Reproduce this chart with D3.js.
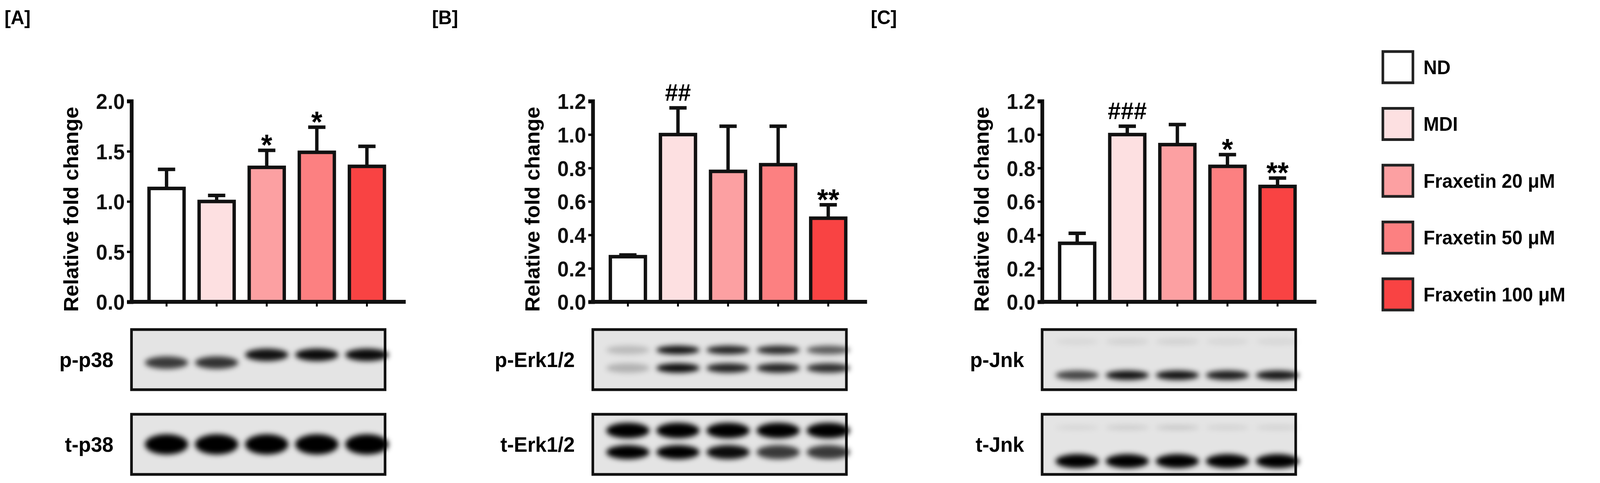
<!DOCTYPE html>
<html>
<head>
<meta charset="utf-8">
<script src="https://cdn.jsdelivr.net/npm/d3@7"></script>
<style>
  html, body { margin: 0; background: #fff; overflow: hidden; }
  svg { display: block; width: 100vw; height: 100vh; }
  text { font-family: "Liberation Sans", Arial, sans-serif; font-weight: bold; }
</style>
</head>
<body>
<script>
// groups and colours
var groups = ["ND", "MDI", "Fraxetin 20 μM", "Fraxetin 50 μM", "Fraxetin 100 μM"];
var colors = ["#ffffff", "#fde0e1", "#fca0a2", "#fc8081", "#f94343"];

// bar values (mean) and error tops
var p38Mean = [1.13, 1.00, 1.34, 1.49, 1.35];
var p38Err  = [1.32, 1.06, 1.51, 1.74, 1.55];
var p38Sig  = ["", "", "*", "*", ""];

var erkMean = [0.27, 1.00, 0.78, 0.82, 0.50];
var erkErr  = [0.28, 1.16, 1.05, 1.05, 0.58];
var erkSig  = ["", "##", "", "", "**"];

var jnkMean = [0.35, 1.00, 0.94, 0.81, 0.69];
var jnkErr  = [0.41, 1.05, 1.06, 0.88, 0.74];
var jnkSig  = ["", "###", "", "*", "**"];

var p38Ticks = [0, 0.5, 1.0, 1.5, 2.0];
var erkTicks = [0, 0.2, 0.4, 0.6, 0.8, 1.0, 1.2];
var jnkTicks = [0, 0.2, 0.4, 0.6, 0.8, 1.0, 1.2];

// blot band intensities per lane (0..1), one array per band row
var pp38Bands = [[0.75, 0.78, 0.92, 0.95, 0.95]];
var tp38Bands = [[1, 1, 1, 1, 1]];
var pErkBands = [[0.18, 0.92, 0.85, 0.82, 0.6], [0.22, 0.95, 0.85, 0.85, 0.8]];
var tErkBands = [[1, 1, 1, 1, 1], [1, 1, 0.95, 0.75, 0.75]];
var pJnkBands = [[0.05, 0.08, 0.08, 0.06, 0.06], [0.7, 0.92, 0.92, 0.88, 0.9]];
var tJnkBands = [[0.06, 0.1, 0.12, 0.08, 0.08], [1, 1, 1, 1, 1]];

var W = 4259, H = 1237;
var svg = d3.select("body").append("svg")
    .attr("viewBox", "0 0 " + W + " " + H)
    .attr("preserveAspectRatio", "none");

var defs = svg.append("defs");
defs.append("filter").attr("id", "blur").attr("x", "-20%").attr("y", "-50%")
    .attr("width", "140%").attr("height", "200%")
  .append("feGaussianBlur").attr("stdDeviation", 7);

var yTop = 259, yBottom = 773;

function panel(opt) {
    var g = svg.append("g");
    var x = d3.scaleBand().domain(groups).range([opt.x0, opt.x0 + 5 * opt.step]).paddingInner(0.3).paddingOuter(0.35);
    var y = d3.scaleLinear().domain([0, opt.max]).range([yBottom, yTop]);

    g.append("text").attr("x", opt.letterX).attr("y", 62).style("font-size", "50px").text(opt.letter);

    // bars
    g.selectAll(".bar").data(opt.mean).enter().append("rect")
        .attr("x", function (d, i) { return x(groups[i]); })
        .attr("y", function (d) { return y(d); })
        .attr("width", x.bandwidth())
        .attr("height", function (d) { return y(0) - y(d); })
        .attr("fill", function (d, i) { return colors[i]; })
        .attr("stroke", "#111").attr("stroke-width", 9);

    // error bars
    g.selectAll(".err").data(opt.err).enter().append("path")
        .attr("d", function (d, i) {
            var cx = x(groups[i]) + x.bandwidth() / 2;
            return "M" + cx + "," + y(opt.mean[i]) + "V" + y(d) + "M" + (cx - 23) + "," + y(d) + "H" + (cx + 23);
        })
        .attr("stroke", "#111").attr("stroke-width", 9).attr("fill", "none");

    g.selectAll(".sig").data(opt.sig).enter().append("text")
        .attr("x", function (d, i) { return x(groups[i]) + x.bandwidth() / 2; })
        .attr("y", function (d, i) { return y(opt.err[i]) - (d.charAt(0) == "#" ? 18 : -12); })
        .attr("text-anchor", "middle")
        .style("font-size", function (d) { return d.charAt(0) == "#" ? "62px" : "76px"; })
        .text(function (d) { return d; });

    // axes
    var ya = g.append("g").attr("transform", "translate(" + opt.x0 + ",0)")
        .call(d3.axisLeft(y).tickValues(opt.ticks).tickFormat(d3.format(".1f")).tickSize(12).tickPadding(6));
    ya.select(".domain").attr("stroke-width", 10).attr("stroke", "#111");
    ya.selectAll(".tick line").attr("stroke-width", 6);
    ya.selectAll("text").style("font-size", "55px").attr("fill", "#111").attr("dy", "0.36em");

    var xa = g.append("g").attr("transform", "translate(0," + yBottom + ")")
        .call(d3.axisBottom(x).tickSize(12).tickFormat(""));
    xa.select(".domain").attr("d", "M" + (opt.x0 - 5) + ",0H" + (opt.x0 + 5 * opt.step + 10))
        .attr("stroke-width", 10).attr("stroke", "#111");
    xa.selectAll(".tick line").attr("stroke-width", 5);

    g.append("text")
        .attr("transform", "translate(" + (opt.x0 - 142) + "," + ((yTop + yBottom) / 2 + 20) + ") rotate(-90)")
        .attr("text-anchor", "middle").style("font-size", "54px").text("Relative fold change");

    // blots
    function blot(top, label, bands, rows, thick) {
        var bx0 = opt.x0, bx1 = opt.x0 + 5 * opt.step - 45, bh = 154;
        g.append("rect").attr("x", bx0).attr("y", top).attr("width", bx1 - bx0).attr("height", bh)
            .attr("fill", "#e4e4e4").attr("stroke", "#111").attr("stroke-width", 7);
        var bg = g.append("g").attr("filter", "url(#blur)");
        bands.forEach(function (row, r) {
            row.forEach(function (v, i) {
                var cx = x(groups[i]) + x.bandwidth() / 2;
                var yy = top + bh * (typeof rows[r] === "function" ? rows[r](i) : rows[r]);
                bg.append("ellipse").attr("cx", cx).attr("cy", yy)
                    .attr("rx", opt.step * 0.4).attr("ry", thick[r])
                    .attr("fill", "#000").attr("opacity", v);
            });
        });
        g.append("text").attr("x", bx0 - 48).attr("y", top + bh / 2 + 19).attr("text-anchor", "end")
            .style("font-size", "54px").text(label);
    }
    blot(844, opt.pLabel, opt.pBands, opt.pRows, opt.pThick);
    blot(1061, opt.tLabel, opt.tBands, opt.tRows, opt.tThick);
}

panel({ letter: "[A]", letterX: 12, x0: 350, step: 144, max: 2.0, ticks: p38Ticks,
    mean: p38Mean, err: p38Err, sig: p38Sig,
    pLabel: "p-p38", pBands: pp38Bands, pRows: [function (i) { return i < 2 ? 0.55 : 0.42; }], pThick: [16],
    tLabel: "t-p38", tBands: tp38Bands, tRows: [0.5], tThick: [26] });

panel({ letter: "[B]", letterX: 1150, x0: 1578, step: 144, max: 1.2, ticks: erkTicks,
    mean: erkMean, err: erkErr, sig: erkSig,
    pLabel: "p-Erk1/2", pBands: pErkBands, pRows: [0.34, 0.64], pThick: [11, 12],
    tLabel: "t-Erk1/2", tBands: tErkBands, tRows: [0.27, 0.63], tThick: [20, 18] });

panel({ letter: "[C]", letterX: 2318, x0: 2774, step: 144, max: 1.2, ticks: jnkTicks,
    mean: jnkMean, err: jnkErr, sig: jnkSig,
    pLabel: "p-Jnk", pBands: pJnkBands, pRows: [0.2, 0.76], pThick: [8, 12],
    tLabel: "t-Jnk", tBands: tJnkBands, tRows: [0.22, 0.78], tThick: [6, 18] });

// legend
var lg = svg.append("g");
var ly = d3.scalePoint().domain(groups).range([172, 754]);
lg.selectAll("rect").data(groups).enter().append("rect")
    .attr("x", 3681).attr("y", function (d) { return ly(d) - 40; })
    .attr("width", 80).attr("height", 80)
    .attr("fill", function (d, i) { return colors[i]; })
    .attr("stroke", "#222").attr("stroke-width", 7);
lg.selectAll("text").data(groups).enter().append("text")
    .attr("x", 3789).attr("y", function (d) { return ly(d) + 18; })
    .style("font-size", "50px").text(function (d) { return d; })
    .each(function () {
        // keep the long labels inside the page, like the condensed original
        if (this.getComputedTextLength() > 440) {
            d3.select(this).attr("textLength", 440).attr("lengthAdjust", "spacingAndGlyphs");
        }
    });
</script>
</body>
</html>
